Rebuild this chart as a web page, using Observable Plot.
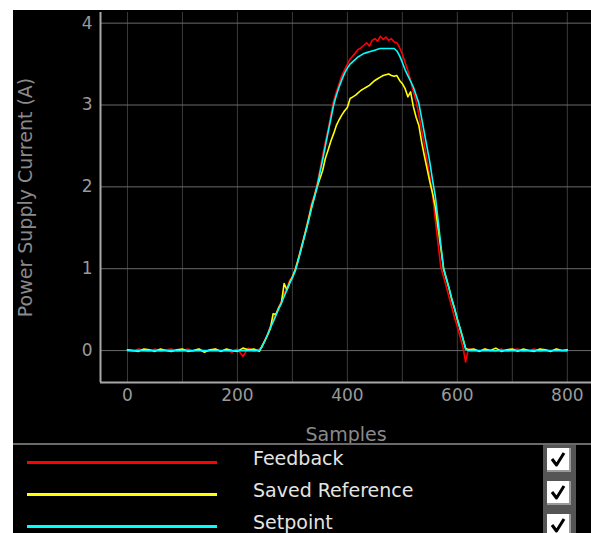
<!DOCTYPE html>
<html><head><meta charset="utf-8">
<script src="https://cdn.jsdelivr.net/npm/d3@7"></script>
<script src="https://cdn.jsdelivr.net/npm/@observablehq/plot@0.6"></script>
<style>
body{margin:0;background:#fff;font-family:"DejaVu Sans",sans-serif;}
#wrap{position:absolute;left:13px;top:10px;width:578px;height:523px;background:#000;overflow:hidden;}
#chart svg{display:block;}
#legend{position:absolute;left:0;top:433px;width:578px;height:90px;border-top:2px solid #6a6a6a;}
.row{position:absolute;left:0;width:578px;height:32px;}
.swatch{position:absolute;left:14px;width:190px;height:3px;}
.lab{position:absolute;left:240px;font-size:19px;color:#e4e4e4;line-height:22px;}
#col{position:absolute;left:530px;top:0;width:33px;height:90px;background:#555;}
.cb{position:absolute;left:4px;width:22px;height:22px;background:#fff;border-right:2px solid #9a9a9a;border-bottom:2px solid #9a9a9a;}
.cb svg{position:absolute;left:0;top:0;}
</style>
</head><body>
<div id="wrap"><div id="chart"></div><div id="legend"></div></div>
<script>
// sample index (x)
const samples = [0,10,20,30,40,50,60,70,80,90,100,110,120,130,140,150,160,170,180,190,200,210,220,230,240,
245,250,255,260,265,270,275,280,285,290,295,300,305,
310,315,320,325,330,335,340,345,
350,355,360,365,370,375,
380,385,390,395,400,405,410,415,420,425,430,435,440,445,450,455,460,465,470,475,480,485,490,
495,500,505,510,515,520,525,530,535,540,545,550,555,560,565,570,575,580,585,590,595,600,605,610,615,
620,630,640,650,660,670,680,690,700,710,720,730,740,750,760,770,780,790,800];

const feedback = [0.01,-0.01,0.02,0.0,-0.01,0.02,-0.01,0.01,0.02,-0.01,0.0,0.02,-0.01,0.02,-0.01,0.0,0.02,-0.01,0.01,-0.02,0.02,-0.07,0.03,-0.01,0.02,
0.04,0.13,0.2,0.3,0.36,0.45,0.53,0.6,0.7,0.76,0.86,0.9,1.0,
1.1,1.24,1.36,1.5,1.64,1.8,1.9,2.04,
2.2,2.38,2.55,2.7,2.88,3.05,
3.16,3.26,3.36,3.43,3.5,3.56,3.6,3.64,3.68,3.7,3.73,3.76,3.72,3.79,3.81,3.78,3.84,3.8,3.83,3.79,3.81,3.77,3.76,
3.7,3.62,3.52,3.42,3.3,3.16,3.05,2.88,2.7,2.52,2.32,2.12,1.9,1.6,1.3,1.02,0.9,0.78,0.65,0.53,0.4,0.29,0.17,0.05,-0.14,
0.02,0.01,-0.01,0.02,0.0,-0.01,0.02,-0.01,0.01,0.02,-0.01,0.0,0.02,-0.01,0.01,-0.01,0.02,0.0,-0.01];

const savedReference = [0.01,0.0,-0.01,0.02,0.01,-0.01,0.02,0.0,-0.01,0.01,0.02,-0.01,0.0,0.02,-0.02,0.01,0.02,-0.01,0.02,0.0,-0.01,0.03,0.01,0.02,-0.01,
0.06,0.12,0.19,0.27,0.45,0.44,0.52,0.58,0.82,0.74,0.83,0.9,0.98,
1.1,1.22,1.35,1.48,1.62,1.76,1.88,2.0,
2.1,2.2,2.35,2.45,2.56,2.65,
2.75,2.82,2.88,2.93,2.97,3.08,3.1,3.12,3.15,3.18,3.2,3.22,3.24,3.27,3.3,3.32,3.34,3.36,3.37,3.38,3.36,3.35,3.36,
3.3,3.26,3.2,3.1,3.16,2.98,2.85,2.75,2.55,2.38,2.22,2.06,1.92,1.75,1.5,1.25,1.0,0.88,0.76,0.62,0.51,0.38,0.27,0.15,0.03,
0.01,0.02,-0.01,0.02,0.0,0.03,-0.01,0.01,0.02,-0.01,0.02,0.0,-0.01,0.02,0.01,-0.01,0.02,0.0,0.01];

const setpoint = [0,0,0,0,0,0,0,0,0,0,0,0,0,0,0,0,0,0,0,0,0,0,0,0,0,
0.05,0.12,0.2,0.28,0.35,0.43,0.51,0.58,0.66,0.74,0.82,0.89,0.97,
1.08,1.21,1.34,1.47,1.6,1.74,1.87,2.0,
2.17,2.33,2.5,2.67,2.83,3.0,
3.12,3.22,3.31,3.39,3.45,3.5,3.53,3.56,3.59,3.61,3.63,3.64,3.65,3.66,3.67,3.68,3.69,3.69,3.69,3.69,3.69,3.69,3.66,
3.6,3.52,3.43,3.36,3.29,3.22,3.12,3.02,2.84,2.66,2.48,2.3,2.08,1.88,1.59,1.29,1.0,0.88,0.76,0.63,0.51,0.39,0.27,0.15,0.02,
0,0,0,0,0,0,0,0,0,0,0,0,0,0,0,0,0,0,0];

const xTicks = [0,200,400,600,800];
const xGrid = [0,100,200,300,400,500,600,700,800];
const yTicks = [0,1,2,3,4];
const seriesNames = ["Feedback","Saved Reference","Setpoint"];
const seriesColors = ["#ff0000","#ffff00","#00ffff"];
const xLabel = "Samples";
const yLabel = "Power Supply Current (A)";

const rows = (vals) => samples.map((s,i)=>({s, v: vals[i]}));
const seriesData = [feedback, savedReference, setpoint].map(rows);

const chart = Plot.plot({
  width: 578, height: 433,
  marginLeft: 87, marginTop: 2, marginBottom: 61, marginRight: 0,
  style: {background: "#000", color: "#9a9a9a", fontFamily: "DejaVu Sans", fontSize: "17px"},
  x: {domain: [-49, 844]},
  y: {domain: [-0.39, 4.13]},
  marks: [
    Plot.gridX(xGrid, {stroke: "#3c3c3c", strokeOpacity: 1}),
    Plot.gridY(yTicks, {stroke: "#6a6a6a", strokeOpacity: 1}),
    Plot.axisX(xTicks, {tickSize: 0, tickPadding: 6, label: null, fontSize: 17, fill: "#9a9a9a", tickFormat: d => String(d)}),
    Plot.axisY(yTicks, {tickSize: 0, tickPadding: 8, label: null, fontSize: 17, fill: "#9a9a9a", tickFormat: d => String(d)}),
    Plot.ruleX([-49], {stroke: "#a8a8a8", strokeWidth: 2}),
    Plot.ruleY([-0.39], {stroke: "#a8a8a8", strokeWidth: 2}),
    ...seriesData.map((d,i)=>Plot.lineY(d, {x: "s", y: "v", stroke: seriesColors[i], strokeWidth: 1.6})),
    Plot.text([xLabel], {frameAnchor: "bottom", dy: 58, fontSize: 19, fill: "#8a8a8a"}),
    Plot.text([yLabel], {frameAnchor: "left", dx: -75, rotate: -90, textAnchor: "middle", fontSize: 19, fill: "#8a8a8a"})
  ]
});
document.getElementById("chart").appendChild(chart);

const legend = document.getElementById("legend");
let html = '<div id="col">';
seriesNames.forEach((n,i)=>{
  html += `<div class="cb" style="top:${3+i*33}px"><svg width="22" height="22"><path d="M5 11 L9.5 17 L17 5" fill="none" stroke="#000" stroke-width="3" stroke-linejoin="round"/></svg></div>`;
});
html += '</div>';
seriesNames.forEach((n,i)=>{
  const top = i*32;
  html += `<div class="swatch" style="top:${16+top}px;background:${seriesColors[i]}"></div>`;
  html += `<div class="lab" style="top:${2+top}px">${n}</div>`;
});
legend.innerHTML = html;
</script>
</body></html>
